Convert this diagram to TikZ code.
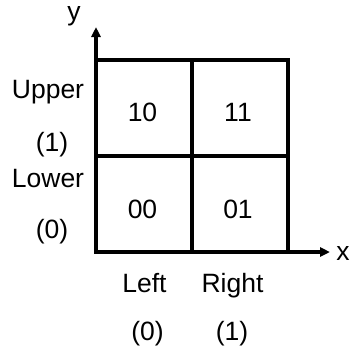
\documentclass[tikz,border=0pt]{standalone}
\usepackage{fontspec}
\setmainfont{Liberation Sans}
\usetikzlibrary{arrows.meta}

\begin{document}
\begin{tikzpicture}[x=1pt,y=-1pt,
    lbl/.style={anchor=base,inner sep=0pt,font=\fontsize{26.5}{32}\selectfont},
    gridline/.style={line width=3.2pt},
    axis/.style={line width=3.2pt,-{Triangle[length=10pt,width=9pt]}}]
    \useasboundingbox (0,0) rectangle (350,354);
    \coordinate (O) at (96,252);
    \coordinate (TR) at (288,60);
    \coordinate (xtip) at (330,252);
    \coordinate (ytip) at (96,27);

    % cells
    \draw[gridline] (O) rectangle (TR);
    \draw[gridline] (192,60) -- (192,252);
    \draw[gridline] (96,156) -- (288,156);

    % axes
    \draw[axis] (O) -- (xtip);
    \draw[axis] (O) -- (ytip);
    \node[lbl,text height=1.1ex] (ylbl) at (74,20) {y};
    \node[lbl] (xlbl) at (343,260) {x};

    % cell codes
    \node[lbl] (c10) at (142.5,121.5) {10};
    \node[lbl] (c11) at (238,121.5) {11};
    \node[lbl] (c00) at (142.5,218) {00};
    \node[lbl] (c01) at (238,218) {01};

    % row labels
    \node[lbl] (upper) at (48,98) {Upper};
    \node[lbl] (one) at (52,151.5) {(1)};
    \node[lbl] (lower) at (48,187) {Lower};
    \node[lbl] (zero) at (52,238) {(0)};

    % column labels
    \node[lbl] (left) at (144.5,292) {Left};
    \node[lbl] (right) at (232.5,292) {Right};
    \node[lbl] (lzero) at (147.5,340) {(0)};
    \node[lbl] (rone) at (232,340) {(1)};
\end{tikzpicture}
\end{document}
